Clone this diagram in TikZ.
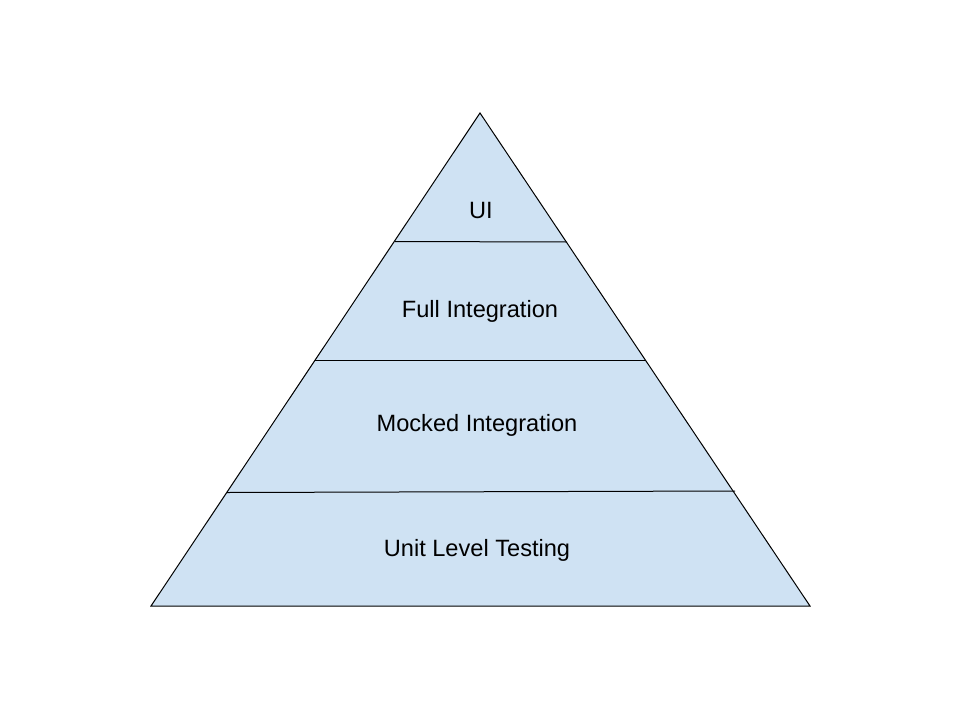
\documentclass[tikz,border=0pt]{standalone}
\usepackage{fontspec}
\setmainfont{Liberation Sans}
\usepackage{tikz}
\usetikzlibrary{calc}
\definecolor{pyrfill}{HTML}{CFE2F3}
\tikzset{
  layer/.style={anchor=base, font=\fontsize{23.6}{28}\selectfont, text=black},
  divider/.style={line width=1pt, black}
}

\begin{document}
\begin{tikzpicture}[x=1pt, y=-1pt]
      \useasboundingbox (0,0) rectangle (960,720);

      % SOMMETS
      \coordinate (T) at (480,113);
      \coordinate (L) at (151,606);
      \coordinate (R) at (810,606);

      % SEPARATIONS
      \coordinate (A1) at (395,241.5);
      \coordinate (B1) at (567,242);
      \coordinate (A2) at (315,360);
      \coordinate (B2) at (645,360);
      \coordinate (A3) at (227,492.5);
      \coordinate (B3) at (735,491);

      % TRIANGLE
      \filldraw[fill=pyrfill, line width=1pt, line join=miter] (T)--(R)--(L)--cycle;

      % LIGNES
      \draw[divider](A1)--(B1);
      \draw[divider](A2)--(B2);
      \draw[divider](A3)--(B3);

      % TEXTES
      \node[layer] (ui) at (481,218) {UI};
      \node[layer] (full) at (480,317) {Full Integration};
      \node[layer] (mocked) at (477,431.5) {Mocked Integration};
      \node[layer] (unit) at (477,556.5) {Unit Level Testing};
\end{tikzpicture}
\end{document}
